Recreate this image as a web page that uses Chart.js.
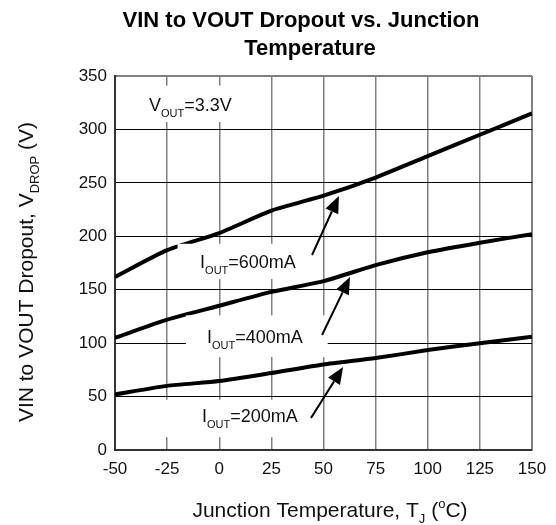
<!DOCTYPE html>
<html>
<head>
<meta charset="utf-8">
<script src="https://cdn.jsdelivr.net/npm/chart.js@4/dist/chart.umd.min.js"></script>
<style>
  html, body { margin: 0; padding: 0; background: #fff; }
  #wrap { width: 556px; height: 525px; }
</style>
</head>
<body>
<div id="wrap"><canvas id="chart" width="556" height="525"></canvas></div>
<script>
const temps = [-50, -25, 0, 25, 50, 75, 100, 125, 150];
const drop600 = [162, 187, 203, 224, 238, 255, 275, 295, 315];
const drop400 = [105, 122, 135, 148, 158, 173, 185, 194, 202];
const drop200 = [52, 60, 64.5, 72, 80, 86, 93.5, 100, 106];
const xTicks = [-50, -25, 0, 25, 50, 75, 100, 125, 150];
const yTicks = [0, 50, 100, 150, 200, 250, 300, 350];

const FONT = '"Liberation Sans", Arial, sans-serif';

function pts(ys) {
  return temps.map((t, i) => ({ x: t, y: ys[i] }));
}

// text runs: s = 0 normal, 1 subscript, -1 superscript
function richWidth(ctx, parts, size) {
  let w = 0;
  parts.forEach(p => {
    ctx.font = (p.s ? Math.round(size * 0.62) : size) + "px " + FONT;
    w += ctx.measureText(p.t).width;
  });
  return w;
}

function drawRich(ctx, parts, x, y, size) {
  parts.forEach(p => {
    const sz = p.s ? Math.round(size * 0.62) : size;
    ctx.font = sz + "px " + FONT;
    let dy = 0;
    if (p.s === 1) dy = size * 0.3;
    if (p.s === -1) dy = -size * 0.45;
    ctx.fillText(p.t, x, y + dy);
    x += ctx.measureText(p.t).width;
  });
}

// labels and arrows, placed in data units
const notes = [
  { parts: [{ t: "V" }, { t: "OUT", s: 1 }, { t: "=3.3V" }], at: [-33.7, 317], box: [-38, 341, 16, 307] },
  { parts: [{ t: "I" }, { t: "OUT", s: 1 }, { t: "=600mA" }], at: [-9.2, 170], box: [-20, 193, 45, 160] },
  { parts: [{ t: "I" }, { t: "OUT", s: 1 }, { t: "=400mA" }], at: [-5.9, 100], box: [-16, 126, 52, 87] },
  { parts: [{ t: "I" }, { t: "OUT", s: 1 }, { t: "=200mA" }], at: [-8.3, 26], box: [-26, 47, 47, 12] }
];
const arrows = [
  [44.5, 182.5, 57.4, 237.7],
  [49.3, 107.6, 62.7, 161.9],
  [44, 30, 59.4, 77.7]
];

const decorations = {
  id: "decorations",
  afterDatasetsDraw(chart) {
    const ctx = chart.ctx;
    const xs = chart.scales.x, ys = chart.scales.y;
    ctx.save();
    notes.forEach(n => {
      const x1 = xs.getPixelForValue(n.box[0]), y1 = ys.getPixelForValue(n.box[1]);
      const x2 = xs.getPixelForValue(n.box[2]), y2 = ys.getPixelForValue(n.box[3]);
      ctx.fillStyle = "#fff";
      ctx.fillRect(x1, y1, x2 - x1, y2 - y1);
    });
    ctx.fillStyle = "#111";
    ctx.textBaseline = "alphabetic";
    ctx.textAlign = "left";
    notes.forEach(n => {
      drawRich(ctx, n.parts, xs.getPixelForValue(n.at[0]), ys.getPixelForValue(n.at[1]), 18);
    });
    // arrows
    ctx.strokeStyle = "#000";
    ctx.fillStyle = "#000";
    ctx.lineWidth = 2;
    arrows.forEach(a => {
      const sx = xs.getPixelForValue(a[0]), sy = ys.getPixelForValue(a[1]);
      const tx = xs.getPixelForValue(a[2]), ty = ys.getPixelForValue(a[3]);
      const ang = Math.atan2(ty - sy, tx - sx);
      const hl = 17, hw = 7;
      const bx = tx - hl * Math.cos(ang), by = ty - hl * Math.sin(ang);
      ctx.beginPath();
      ctx.moveTo(sx, sy);
      ctx.lineTo(bx, by);
      ctx.stroke();
      ctx.beginPath();
      ctx.moveTo(tx, ty);
      ctx.lineTo(bx + hw * Math.sin(ang), by - hw * Math.cos(ang));
      ctx.lineTo(bx - hw * Math.sin(ang), by + hw * Math.cos(ang));
      ctx.closePath();
      ctx.fill();
    });

    // title
    ctx.fillStyle = "#000";
    ctx.textAlign = "center";
    ctx.font = "bold 22px " + FONT;
    ctx.fillText("VIN to VOUT Dropout vs. Junction", 301, 27);
    ctx.fillText("Temperature", 310, 55);

    // x axis title
    ctx.textAlign = "left";
    ctx.fillStyle = "#111";
    const xt = [{ t: "Junction Temperature, T" }, { t: "J", s: 1 }, { t: " (" }, { t: "o", s: -1 }, { t: "C)" }];
    const xw = richWidth(ctx, xt, 21);
    drawRich(ctx, xt, 330 - xw / 2, 517, 21);

    // y axis title
    const yt = [{ t: "VIN to VOUT Dropout, V" }, { t: "DROP", s: 1 }, { t: " (V)" }];
    const yw = richWidth(ctx, yt, 21);
    ctx.translate(33, 272);
    ctx.rotate(-Math.PI / 2);
    drawRich(ctx, yt, -yw / 2, 0, 21);
    ctx.restore();
  }
};

const lineStyle = {
  borderColor: "#000",
  borderWidth: 4,
  pointRadius: 0,
  tension: 0.2,
  fill: false
};

new Chart(document.getElementById("chart"), {
  type: "line",
  data: {
    datasets: [
      { label: "600mA", data: pts(drop600), ...lineStyle },
      { label: "400mA", data: pts(drop400), ...lineStyle },
      { label: "200mA", data: pts(drop200), ...lineStyle }
    ]
  },
  options: {
    responsive: false,
    animation: false,
    layout: { padding: { top: 76, right: 24, left: 0, bottom: 0 } },
    plugins: {
      legend: { display: false },
      title: { display: false },
      tooltip: { enabled: false }
    },
    scales: {
      x: {
        type: "linear",
        min: -50,
        max: 150,
        afterBuildTicks: s => { s.ticks = xTicks.map(v => ({ value: v })); },
        afterFit: s => { s.height = 75; },
        grid: {
          drawTicks: false,
          color: "#808080",
          lineWidth: c => (c.tick && c.tick.value === 150 ? 2 : 1.5)
        },
        border: { display: true, color: "#333", width: 2 },
        ticks: { color: "#111", padding: 9, font: { family: FONT, size: 17 }, maxRotation: 0 }
      },
      y: {
        min: 0,
        max: 350,
        afterBuildTicks: s => { s.ticks = yTicks.map(v => ({ value: v })); },
        afterFit: s => { s.width = 115; },
        grid: {
          drawTicks: false,
          color: c => (c.tick && c.tick.value === 350 ? "#808080" : "#000"),
          lineWidth: c => (c.tick && c.tick.value === 350 ? 2 : 1)
        },
        border: { display: true, color: "#333", width: 2 },
        ticks: { color: "#111", padding: 8, font: { family: FONT, size: 17 } }
      }
    }
  },
  plugins: [decorations]
});
</script>
</body>
</html>
